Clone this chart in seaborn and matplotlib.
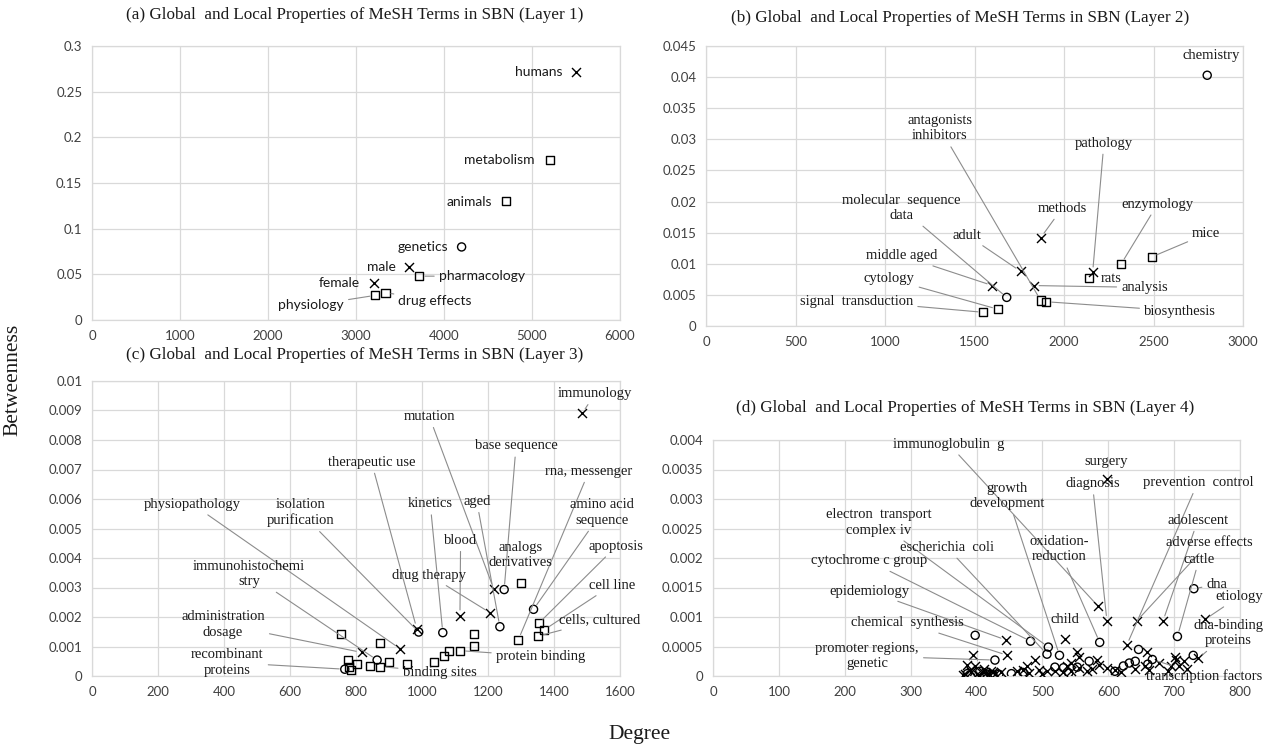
import numpy as np
import pandas as pd
import matplotlib
matplotlib.use("Agg")
import matplotlib.pyplot as plt
import seaborn as sns
from matplotlib.ticker import FuncFormatter, MultipleLocator

# ---- (a) Layer 1 ----
A_TERMS = ["humans", "metabolism", "animals", "genetics", "male",
           "pharmacology", "female", "physiology", "drug effects"]
A_DEG = [5500, 5200, 4700, 4200, 3600, 3720, 3200, 3220, 3335]
A_BTW = [0.272, 0.175, 0.130, 0.080, 0.058, 0.048, 0.041, 0.027, 0.030]
A_KIND = ["x", "s", "s", "o", "x", "s", "x", "s", "s"]

# ---- (b) Layer 2 ----
B_TERMS = ["chemistry", "antagonists\ninhibitors", "pathology",
           "molecular  sequence\ndata", "methods", "enzymology", "adult",
           "mice", "middle aged", "cytology", "rats", "analysis",
           "signal  transduction", "biosynthesis"]
B_DEG = [2800, 1870, 2160, 1680, 1870, 2320, 1757, 2490, 1600, 1630, 2140,
         1830, 1550, 1900]
B_BTW = [0.0403, 0.0041, 0.0086, 0.0046, 0.0142, 0.0100, 0.0088, 0.0111,
         0.0065, 0.0027, 0.0077, 0.0065, 0.0022, 0.0039]
B_KIND = ["o", "s", "x", "o", "x", "s", "x", "s", "x", "s", "s", "x", "s", "s"]

# ---- (c) Layer 3 ----
C_TERMS = ["immunology", "mutation", "base sequence", "therapeutic use",
           "rna, messenger", "physiopathology", "isolation\npurification",
           "kinetics", "aged", "amino acid\nsequence", "blood",
           "analogs\nderivatives", "apoptosis", "immunohistochemi\nstry",
           "drug therapy", "cell line", "administration\ndosage",
           "cells, cultured", "recombinant\nproteins", "protein binding",
           "binding sites",
           "", "", "", "", "", "", "", "", "", "", "", "", "", ""]
C_DEG = [1485, 1217, 1249, 984, 1292, 934, 990, 1063, 1236, 1338, 1115,
         1299, 1354, 864, 1207, 1371, 817, 1352, 766, 1115, 874,
         755, 872, 776, 804, 779, 786, 843, 900, 955, 1035, 1066, 1082,
         1158, 1158]
C_BTW = [0.0089, 0.00296, 0.00293, 0.00161, 0.00123, 0.00092, 0.00149,
         0.00147, 0.00167, 0.00226, 0.00205, 0.00314, 0.00179, 0.00054,
         0.00214, 0.00157, 0.00080, 0.00135, 0.00023, 0.00086, 0.00032,
         0.00143, 0.00111, 0.00054, 0.00042, 0.00029, 0.00020, 0.00035,
         0.00046, 0.00042, 0.00046, 0.00069, 0.00084, 0.00142, 0.00103]
C_KIND = ["x", "x", "o", "x", "s", "x", "o", "o", "o", "o", "x", "s", "s",
          "o", "x", "s", "x", "s", "o", "s", "s",
          "s", "s", "s", "s", "s", "s", "s", "s", "s", "s", "s", "s", "s", "s"]

# ---- (d) Layer 4 ----
D_TERMS = ["immunoglobulin  g", "surgery", "diagnosis", "prevention  control",
           "growth\ndevelopment", "electron  transport\ncomplex iv",
           "adolescent", "escherichia  coli", "oxidation-\nreduction",
           "adverse effects", "cytochrome c group", "cattle", "epidemiology",
           "dna", "etiology", "chemical  synthesis", "child",
           "dna-binding\nproteins", "promoter regions,\ngenetic",
           "transcription factors"]
D_DEG = [584, 598, 598, 628, 526, 509, 683, 507, 587, 643, 482, 705, 445,
         730, 747, 447, 535, 737, 428, 667,
         398, 395, 552, 556, 571, 583, 646, 659, 641, 702, 703, 729, 696,
         708, 677, 656, 662, 623, 632, 611, 598, 586, 568, 556, 544, 538,
         532, 519, 507, 489, 495, 477, 471, 462, 453, 437, 428, 419, 410,
         404, 392, 383, 386, 398, 422, 380, 386, 416, 434, 544, 532, 553,
         519, 400, 415, 425, 390, 412, 405, 425, 470, 480, 500, 540, 575,
         620, 610, 640, 690, 720, 715, 660]
D_BTW = [0.00119, 0.00334, 0.00093, 0.00052, 0.00035, 0.00049, 0.00093,
         0.00037, 0.00057, 0.00093, 0.00059, 0.00067, 0.00061, 0.00148,
         0.00096, 0.00035, 0.00063, 0.00030, 0.00027, 0.00028,
         0.00069, 0.00035, 0.00041, 0.00033, 0.00025, 0.00027, 0.00045,
         0.00041, 0.00025, 0.00033, 0.00027, 0.00035, 0.00017, 0.00017,
         0.00022, 0.00017, 0.00011, 0.00017, 0.00022, 0.00011, 0.00014,
         0.00019, 0.00009, 0.00014, 0.00009, 0.00017, 0.00006, 0.00015,
         0.00009, 0.00027, 0.00011, 0.00017, 0.00006, 0.00009, 0.00004,
         0.00006, 0.00003, 0.00004, 0.00006, 0.00002, 0.00006, 0.00003,
         0.00019, 0.00017, 0.00009, 0.00001, 0.00004, 0.00003, 0.00003,
         0.00022, 0.00014, 0.00015, 0.00009, 0.00003, 0.00005, 0.00007,
         0.00011, 0.00012, 0.00008, 0.00002, 0.00010, 0.00005, 0.00004,
         0.00005, 0.00012, 0.00006, 0.00008, 0.00012, 0.00008, 0.00012,
         0.00025, 0.00020]
D_KIND = ["x", "x", "x", "x", "o", "o", "x", "o", "o", "x", "o", "o", "x",
          "o", "x", "x", "x", "x", "o", "o",
          "o", "x", "x", "x", "o", "x", "o", "x", "o", "x", "x", "o", "x",
          "x", "x", "x", "x", "o", "o", "x", "x", "x", "x", "x", "x", "x",
          "x", "o", "x", "x", "x", "x", "o", "x", "o", "x", "x", "x", "x",
          "x", "x", "x", "x", "x", "x", "x", "o", "o", "o", "x", "o", "o",
          "x", "x", "x", "x", "x", "x", "o", "o", "x", "x", "x", "o", "x",
          "x", "o", "x", "x", "x", "x", "o"]

# label placement (data coords of label centre) and whether a leader line is drawn
A_LAB = [(5080, 0.2716, 0), (4625, 0.175, 0), (4282, 0.129, 0), (3760, 0.080, 0),
         (3290, 0.058, 0), (4430, 0.048, 1), (2815, 0.041, 0), (2490, 0.016, 1),
         (3900, 0.021, 1)]
B_LAB = [(2823, 0.0435, 0), (1307, 0.0318, 1), (2223, 0.0294, 1), (1091, 0.0190, 1),
         (1989, 0.0189, 1), (2523, 0.0196, 1), (1459, 0.0146, 1), (2795, 0.0148, 1),
         (1095, 0.0113, 1), (1023, 0.0076, 1), (2262, 0.0077, 0), (2450, 0.0062, 1),
         (841, 0.0040, 1), (2648, 0.0024, 1)]
C_LAB = [(1525, 0.00957, 1), (1022, 0.0088, 1), (1285, 0.0078, 1), (847, 0.00725, 1),
         (1506, 0.00694, 1), (305, 0.00582, 1), (633, 0.00554, 1), (1025, 0.00584, 1),
         (1166, 0.00592, 1), (1544, 0.00554, 1), (1117, 0.0046, 1), (1299, 0.0041, 0),
         (1589, 0.0044, 1), (476, 0.00346, 1), (1022, 0.00342, 1), (1576, 0.00308, 1),
         (397, 0.00175, 1), (1538, 0.0019, 1), (410, 0.00046, 1), (1359, 0.00067, 1),
         (1053, 0.00013, 1)]
D_LAB = [(358, 0.00393, 1), (597, 0.00363, 0), (576, 0.00326, 1), (736, 0.00328, 1),
         (447, 0.00305, 1), (252, 0.0026, 1), (736, 0.00264, 1), (355, 0.00218, 1),
         (525, 0.00215, 1), (753, 0.00226, 1), (237, 0.00195, 1), (738, 0.00198, 1),
         (237, 0.00144, 1), (765, 0.00155, 1), (799, 0.00135, 1), (295, 0.0009, 1),
         (535, 0.00095, 0), (782, 0.00073, 1), (234, 0.00034, 1), (746, 0.0000, 1)]

SERIF = "Liberation Serif"
SANS = "Lato"

sns.set_theme(style="whitegrid")
plt.rcParams["font.family"] = [SANS, "DejaVu Sans"]

W, H = 1263, 748
fig = plt.figure(figsize=(W / 100, H / 100), dpi=100)
fig.patch.set_facecolor("white")


def px_rect(x0, x1, ytop, ybot):
    return [x0 / W, 1 - ybot / H, (x1 - x0) / W, (ybot - ytop) / H]


def fmt(v, _):
    return f"{round(v, 6):g}"


def panel(rect, title, title_xy, terms, deg, btw, kind, labs, xmax, xstep,
          ymax, ystep, lab_font, lab_size):
    ax = fig.add_axes(rect)
    df = pd.DataFrame({"deg": deg, "btw": btw, "kind": kind})
    sns.scatterplot(data=df[df.kind == "x"], x="deg", y="btw", marker="x",
                    color="black", s=42, linewidth=1.0, ax=ax, zorder=4)
    for k in ["o", "s"]:
        sns.scatterplot(data=df[df.kind == k], x="deg", y="btw", marker=k,
                        s=34, facecolors="none", edgecolor="black",
                        linewidth=1.0, ax=ax, zorder=4)
    ax.set_xlim(0, xmax)
    ax.set_ylim(0, ymax)
    ax.xaxis.set_major_locator(MultipleLocator(xstep))
    ax.yaxis.set_major_locator(MultipleLocator(ystep))
    ax.yaxis.set_major_formatter(FuncFormatter(fmt))
    ax.set_xlabel("")
    ax.set_ylabel("")
    ax.set_facecolor("white")
    ax.grid(True, color="#d9d9d9", lw=0.9)
    ax.set_axisbelow(True)
    for sp in ax.spines.values():
        sp.set_color("#d9d9d9")
        sp.set_linewidth(0.9)
    ax.tick_params(length=0, labelsize=9.5, labelcolor="#404040", pad=7)
    for t in ax.get_xticklabels() + ax.get_yticklabels():
        t.set_family([SANS, "DejaVu Sans"])

    for name, x, y, (lx, ly, line) in zip(terms, deg, btw, labs):
        if not name:
            continue
        arrow = None
        if line:
            arrow = dict(arrowstyle="-", color="#8c8c8c", lw=0.8,
                         shrinkA=1, shrinkB=4)
        ax.annotate(name, xy=(x, y), xytext=(lx, ly), ha="center",
                    va="center", fontsize=lab_size, family=lab_font,
                    color="#1a1a1a", linespacing=1.25, arrowprops=arrow,
                    annotation_clip=False, zorder=5)

    fig.text(title_xy[0] / W, 1 - title_xy[1] / H, title, ha="center",
             va="center", family=SERIF, fontsize=12.3, color="#1a1a1a")
    return ax


panel(px_rect(92, 620, 46, 320),
      "(a) Global  and Local Properties of MeSH Terms in SBN (Layer 1)",
      (355, 15), A_TERMS, A_DEG, A_BTW, A_KIND, A_LAB, 6000, 1000, 0.3, 0.05,
      [SANS, "DejaVu Sans"], 10)
panel(px_rect(706, 1243, 46, 326),
      "(b) Global  and Local Properties of MeSH Terms in SBN (Layer 2)",
      (960, 18), B_TERMS, B_DEG, B_BTW, B_KIND, B_LAB, 3000, 500, 0.045, 0.005,
      SERIF, 10.5)
panel(px_rect(92, 620, 381, 676),
      "(c) Global  and Local Properties of MeSH Terms in SBN (Layer 3)",
      (355, 355), C_TERMS, C_DEG, C_BTW, C_KIND, C_LAB, 1600, 200, 0.01, 0.001,
      SERIF, 10.5)
panel(px_rect(713, 1240, 440, 676),
      "(d) Global  and Local Properties of MeSH Terms in SBN (Layer 4)",
      (965, 408), D_TERMS, D_DEG, D_BTW, D_KIND, D_LAB, 800, 100, 0.004, 0.0005,
      SERIF, 10.5)

fig.text(13 / W, 1 - 380 / H, "Betweenness", rotation=90, ha="center",
         va="center", family=SERIF, fontsize=15.5, color="#1a1a1a")
fig.text(640 / W, 1 - 735 / H, "Degree", ha="center", va="center",
         family=SERIF, fontsize=15.5, color="#1a1a1a")

fig.savefig("out.png", dpi=100, facecolor="white")
